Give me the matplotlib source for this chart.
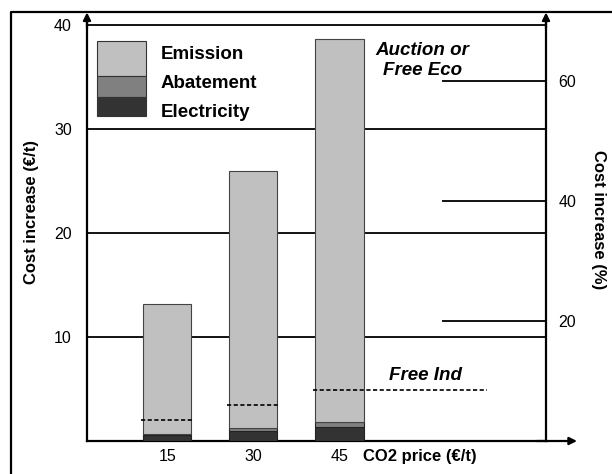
import matplotlib.pyplot as plt
from matplotlib.patches import Rectangle
from matplotlib.lines import Line2D

plt.rcParams['font.family'] = ['Liberation Sans', 'DejaVu Sans']

# data
co2_price = [15, 30, 45]
electricity = [0.6, 1.0, 1.35]
abatement = [0.1, 0.25, 0.5]
emission = [12.5, 24.75, 36.85]
free_ind = [2.0, 3.5, 4.9]
left_ticks = [10, 20, 30, 40]
right_ticks = [20, 40, 60]

c_emis = '#c0c0c0'
c_abat = '#808080'
c_elec = '#333333'

fig = plt.figure(figsize=(6.12, 4.74), dpi=100)
ax = fig.add_axes([87/612, 33/474, 459/612, 421/474])

# stacked bars
bar_w = 8.4
ax.bar(co2_price, electricity, width=bar_w, color=c_elec, edgecolor='#222222', lw=0.8, zorder=3)
bot = [e for e in electricity]
ax.bar(co2_price, abatement, width=bar_w, bottom=bot, color=c_abat, edgecolor='#222222', lw=0.8, zorder=3)
bot = [e + a for e, a in zip(electricity, abatement)]
ax.bar(co2_price, emission, width=bar_w, bottom=bot, color=c_emis, edgecolor='#444444', lw=0.8, zorder=3)

# free allocation (industry) dashed marks
for i, (x, y) in enumerate(zip(co2_price, free_ind)):
    x1 = x + 4.6 if i < len(co2_price) - 1 else 70.7
    ax.plot([x - 4.6, x1], [y, y], ls=(0, (2.5, 1.5)), color='black', lw=1.2, zorder=4)

ax.set_xlim(1, 81)
ax.set_ylim(0, 421/10.4)
ax.set_yticks(left_ticks)
ax.set_xticks(co2_price)
ax.tick_params(axis='both', length=0, labelsize=11.5)
ax.tick_params(axis='y', pad=11)
ax.tick_params(axis='x', pad=6)
for y in left_ticks:
    ax.axhline(y, color='black', lw=1.3, zorder=1)

for s in ['top', 'right']:
    ax.spines[s].set_visible(False)
ax.spines['left'].set_linewidth(1.6)
ax.spines['bottom'].set_linewidth(1.6)

ax.set_ylabel('Cost increase (€/t)', fontsize=12, fontweight='bold')
ax.yaxis.set_label_coords(-0.104, 0.544)
ax.set_xlabel('CO2 price (€/t)', fontsize=12, fontweight='bold')
ax.xaxis.set_label_coords(0.7255, -0.018)

# right axis in percent
ax2 = ax.twinx()
ax2.set_ylim(0, 421/6)
ax2.set_yticks(right_ticks)
ax2.tick_params(axis='y', direction='in', length=75, width=1.3, labelsize=11.5, pad=9)
for s in ['top', 'left', 'bottom']:
    ax2.spines[s].set_visible(False)
ax2.spines['right'].set_linewidth(1.6)
ax2.text(1.1135, 0.525, 'Cost increase (%)', transform=ax2.transAxes, fontsize=12,
         fontweight='bold', rotation=-90, ha='center', va='center')

# axis arrows
arr = dict(arrowstyle='-|>', color='black', lw=1.6, mutation_scale=11, shrinkA=0, shrinkB=0)
ax.annotate('', xy=(0, 1.018), xytext=(0, 0.98), xycoords='axes fraction', arrowprops=arr)
ax.annotate('', xy=(1, 1.018), xytext=(1, 0.98), xycoords='axes fraction', arrowprops=arr)
ax.annotate('', xy=(1.0675, 0), xytext=(0.98, 0), xycoords='axes fraction', arrowprops=arr)

# legend drawn as stacked block
leg = [('Emission', c_emis, 0.867, 0.950, 0.919),
       ('Abatement', c_abat, 0.817, 0.867, 0.848),
       ('Electricity', c_elec, 0.772, 0.817, 0.781)]
for name, col, y0, y1, yt in leg:
    ax.add_patch(Rectangle((0.0218, y0), 0.107, y1 - y0, transform=ax.transAxes,
                           facecolor=col, edgecolor='#333333', lw=0.8, zorder=5))
    ax.text(0.161, yt, name, transform=ax.transAxes, fontsize=13.5, fontweight='bold',
            va='center', ha='left', zorder=5)

ax.text(59.5, 36.6, 'Auction or\nFree Eco', fontsize=13.5, fontweight='bold', style='italic',
        ha='center', va='center', multialignment='center', zorder=5)
ax.text(60.0, 6.25, 'Free Ind', fontsize=13.5, fontweight='bold', style='italic',
        ha='center', va='center', zorder=5)

# outer frame (left and top edges)
fig.add_artist(Line2D([11/612, 11/612, 1], [0, 462/474, 462/474], color='black', lw=1.6))

fig.savefig('out.png', dpi=100)
